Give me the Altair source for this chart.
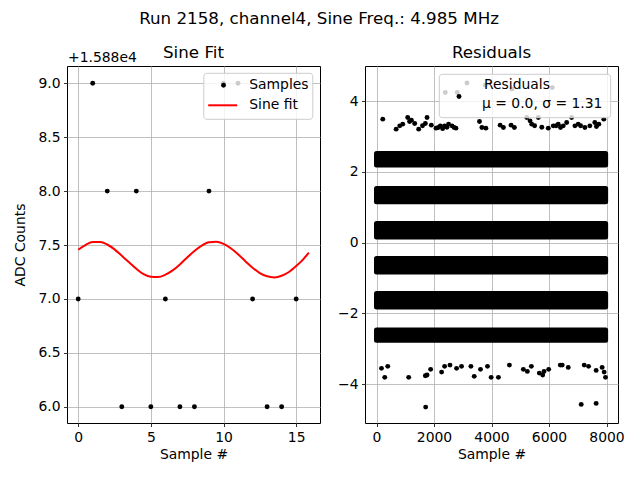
import altair as alt
import pandas as pd

FONT = "DejaVu Sans"
SUPTITLE = "Run 2158, channel4, Sine Freq.: 4.985 MHz"
OFFSET = 15880

# ---- Left panel: samples and sine fit ----
sample_idx = list(range(16))
sample_adc = [15887, 15889, 15888, 15886, 15888, 15886, 15887, 15886,
              15886, 15888, 15889, 15889, 15887, 15886, 15886, 15887]

fit_x = [0, 0.5, 1.0, 1.5, 2.0, 2.5, 3.0, 3.5, 4.0, 4.5, 5.0, 5.5, 6.0, 6.5,
         7.0, 7.5, 8.0, 8.5, 9.0, 9.5, 10.0, 10.5, 11.0, 11.5, 12.0, 12.5,
         13.0, 13.5, 14.0, 14.5, 15.0, 15.5, 15.87]
fit_rel = [7.456, 7.50, 7.528, 7.528, 7.505, 7.46, 7.40, 7.34, 7.28, 7.23,
           7.205, 7.203, 7.225, 7.265, 7.32, 7.385, 7.445, 7.495, 7.525, 7.53,
           7.51, 7.47, 7.415, 7.35, 7.29, 7.24, 7.21, 7.20, 7.215, 7.25, 7.305,
           7.37, 7.43]

# ---- Right panel: residuals ----
# dense residual bands (range of dot centres over the whole record)
band_lo = [2.19, 1.15, 0.16, -0.83, -1.82, -2.76]
band_hi = [2.52, 1.53, 0.54, -0.45, -1.44, -2.47]
band_x0 = [0, 0, 0, 0, 0, 0]
band_x1 = [7970, 7970, 7970, 7970, 7970, 7970]

# sparse residual points
res_x = [218, 683, 808, 912, 1085, 1214, 1328, 1467, 1699, 1758, 1907, 2070,
         2220, 2369, 2507, 2625, 2764, 3582, 3666, 3804, 4300, 4415, 4682,
         4796, 5226, 5341, 5400, 5629, 5975, 6149, 6322, 6496, 6614, 6787,
         6902, 7016, 7248, 7421, 7594, 7733, 7906,
         1150, 1600, 2150, 2300, 2450, 2700, 5500, 5750, 6250, 6400, 7100, 7650,
         2393, 2809, 3146, 3780, 4706, 6114,
         173, 392, 288, 1120, 1699, 1758, 1883, 1710, 2265, 2369, 2556, 2785,
         2958, 3284, 3399, 3617, 3860, 3988, 4241, 4623, 5108, 5247, 5386,
         5663, 5781, 5826, 5989, 6392, 6461, 6669, 7224, 7376, 7640, 7848,
         7918, 7966, 7120, 7640]
res_y = [3.488, 3.205, 3.299, 3.347, 3.533, 3.460, 3.363, 3.205, 3.363, 3.533,
         3.318, 3.233, 3.298, 3.298, 3.347, 3.298, 3.233, 3.420, 3.250, 3.233,
         3.318, 3.250, 3.318, 3.250, 3.533, 3.440, 3.347, 3.533, 3.233, 3.298,
         3.347, 3.298, 3.392, 3.533, 3.298, 3.347, 3.250, 3.298, 3.392, 3.347,
         3.488,
         3.42, 3.30, 3.25, 3.22, 3.26, 3.25, 3.30, 3.26, 3.30, 3.25, 3.30, 3.28,
         4.24, 4.24, 4.51, 4.45, 4.34, 4.38,
         -3.556, -3.499, -3.810, -3.810, -3.765, -3.745, -3.584, -4.651, -3.661,
         -3.499, -3.463, -3.556, -3.499, -3.499, -3.782, -3.584, -3.499,
         -3.810, -3.810, -3.463, -3.584, -3.641, -3.499, -3.689, -3.745,
         -3.641, -3.584, -3.463, -3.463, -3.528, -3.463, -3.499, -3.613,
         -3.528, -3.661, -3.810, -4.574, -4.546]

samples = pd.DataFrame({"idx": sample_idx, "adc": sample_adc})
fit = pd.DataFrame({"x": fit_x, "y": [OFFSET + v for v in fit_rel]})
bands = pd.DataFrame({"x0": band_x0, "x1": band_x1, "lo": band_lo, "hi": band_hi})
resid = pd.DataFrame({"x": res_x, "y": res_y})
one = pd.DataFrame({"k": [0]})

W, H = 253, 357
GRID = "#b0b0b0"
FS = 13.9
TS = 16.7

xl = alt.Scale(domain=[-0.77, 16.64], nice=False, zero=False)
yl = alt.Scale(domain=[OFFSET + 5.85, OFFSET + 9.16], nice=False, zero=False)
xr = alt.Scale(domain=[-400, 8400], nice=False, zero=False)
yr = alt.Scale(domain=[-5.1, 4.99], nice=False, zero=False)

ax_xl = alt.Axis(values=[0, 5, 10, 15], title="Sample #", format="d")
ax_yl = alt.Axis(values=[OFFSET + 6 + 0.5 * i for i in range(7)], title="ADC Counts",
                 labelExpr="format(datum.value - 15880, '.1f')", titlePadding=10)
ax_xr = alt.Axis(values=[0, 2000, 4000, 6000, 8000], title="Sample #", format="d")
ax_yr = alt.Axis(values=[-4, -2, 0, 2, 4], title=None, format="d")

pts_l = alt.Chart(samples).mark_circle(color="black", size=24, opacity=1).encode(
    x=alt.X("idx:Q", scale=xl, axis=ax_xl),
    y=alt.Y("adc:Q", scale=yl, axis=ax_yl),
)
line_l = alt.Chart(fit).mark_line(color="red", strokeWidth=2, interpolate="monotone").encode(
    x=alt.X("x:Q", scale=xl),
    y=alt.Y("y:Q", scale=yl),
)


def text_at(x, y, s, size=FS, align="left", baseline="middle"):
    return alt.Chart(one).mark_text(align=align, baseline=baseline, font=FONT,
                                    fontSize=size, color="black").encode(
        x=alt.value(x), y=alt.value(y), text=alt.value(s))


def legend_box(x0, x1, y0, y1):
    return alt.Chart(one).mark_rect(fill="white", fillOpacity=0.8, stroke="#cccccc",
                                    strokeWidth=1, cornerRadius=3).encode(
        x=alt.value(x0), x2=alt.value(x1), y=alt.value(y0), y2=alt.value(y1))


def legend_dot(x, y):
    return alt.Chart(one).mark_circle(color="black", size=24, opacity=1).encode(
        x=alt.value(x), y=alt.value(y))


leg_l = alt.layer(
    legend_box(136.8, 245.8, 7.3, 53.3),
    legend_dot(156.5, 19.3),
    alt.Chart(one).mark_rule(color="red", strokeWidth=2).encode(
        x=alt.value(141.2), x2=alt.value(170.2), y=alt.value(39.3)),
    text_at(182.2, 19.3, "Samples"),
    text_at(182.2, 39.3, "Sine fit"),
)

left = alt.layer(
    pts_l, line_l, leg_l,
    text_at(1, -4, "+1.588e4", baseline="alphabetic"),
    text_at(W / 2, -8, "Sine Fit", size=TS, align="center", baseline="alphabetic"),
).properties(width=W, height=H)

band_r = alt.Chart(bands).mark_rect(color="black", stroke="black", strokeWidth=5,
                                    strokeJoin="round").encode(
    x=alt.X("x0:Q", scale=xr, axis=ax_xr),
    x2="x1:Q",
    y=alt.Y("lo:Q", scale=yr, axis=ax_yr),
    y2="hi:Q",
)
pts_r = alt.Chart(resid).mark_circle(color="black", size=24, opacity=1).encode(
    x=alt.X("x:Q", scale=xr),
    y=alt.Y("y:Q", scale=yr),
)
leg_r = alt.layer(
    legend_box(74.3, 245.7, 8.3, 51.7),
    legend_dot(94, 30.5),
    text_at(119, 19.3, "Residuals"),
    text_at(117, 37.5, "μ = 0.0, σ = 1.31"),
)

right = alt.layer(
    band_r, pts_r, leg_r,
    text_at(W / 2, -8, "Residuals", size=TS, align="center", baseline="alphabetic"),
).properties(width=W, height=H)

chart = alt.hconcat(left, right, spacing=16).properties(
    title=alt.TitleParams(SUPTITLE, font=FONT, fontSize=TS, fontWeight="normal",
                          anchor="middle", color="black", offset=17),
    padding={"left": 5, "top": 2, "right": 5, "bottom": 5},
    background="white",
).resolve_scale(x="independent", y="independent").configure_view(
    stroke="black", strokeWidth=1
).configure_axis(
    grid=True, gridColor=GRID, gridWidth=0.8, domain=False,
    tickColor="black", tickSize=3.5, tickWidth=0.8,
    labelFont=FONT, labelFontSize=FS, labelColor="black", labelPadding=3.5,
    titleFont=FONT, titleFontSize=FS, titleFontWeight="normal", titleColor="black",
    titlePadding=4,
)

chart.save("out.html", embed_options={"renderer": "svg", "actions": False})
